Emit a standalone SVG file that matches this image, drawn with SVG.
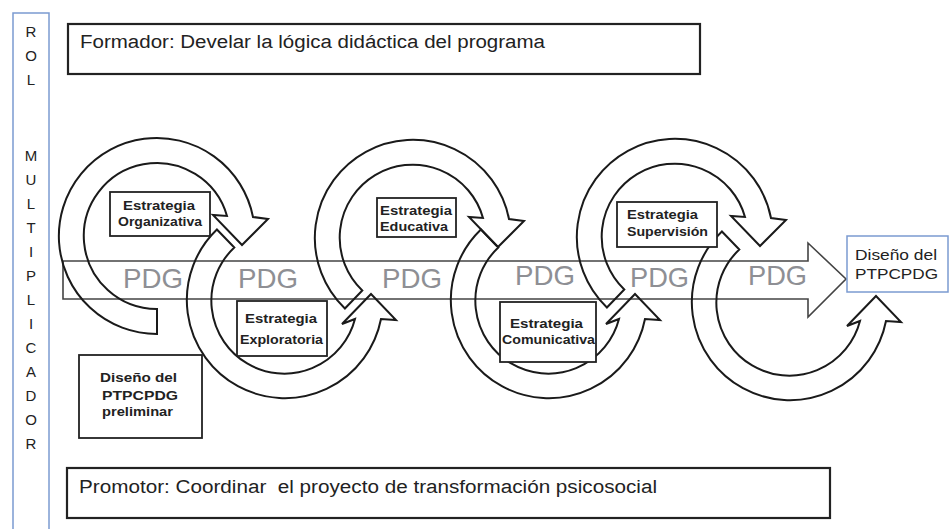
<svg xmlns="http://www.w3.org/2000/svg" width="950" height="529" viewBox="0 0 950 529">
<style>
text{font-family:"Liberation Sans",Arial,sans-serif}
.role{font-size:15px;fill:#222;text-anchor:middle}
.big{font-size:18px;fill:#222}
.sm{font-size:12px;font-weight:bold;fill:#222}
.md{font-size:14px;fill:#222}
.pm{font-size:12.5px;font-weight:bold;fill:#222}
.pdg{font-size:28px;fill:#8e8f94}
.box{fill:#fff;stroke:#222;stroke-width:1.8}
.wide{fill:#fff;stroke:#222;stroke-width:2.2}
.blue{fill:#fff;stroke:#7b9bd1;stroke-width:1.5}
.carrow{fill:none;stroke:#1a1a1a;stroke-width:2;stroke-linejoin:miter}
.main{fill:none;stroke:#444;stroke-width:1.6}
</style>
<rect width="950" height="529" fill="#fff"/>
<g id="rol">
<rect class="blue" x="13" y="13" width="36" height="540" fill="none"/>
<text class="role" x="31" y="37">R</text>
<text class="role" x="31" y="61">O</text>
<text class="role" x="31" y="85">L</text>
<text class="role" x="31" y="161">M</text>
<text class="role" x="31" y="185">U</text>
<text class="role" x="31" y="209">L</text>
<text class="role" x="31" y="233">T</text>
<text class="role" x="31" y="257">I</text>
<text class="role" x="31" y="281">P</text>
<text class="role" x="31" y="305">L</text>
<text class="role" x="31" y="329">I</text>
<text class="role" x="31" y="353">C</text>
<text class="role" x="31" y="377">A</text>
<text class="role" x="31" y="401">D</text>
<text class="role" x="31" y="425">O</text>
<text class="role" x="31" y="449">R</text>
</g>
<g id="formador">
<rect class="wide" x="68" y="24" width="632" height="50"/>
<text class="big" x="80" y="48" textLength="465" lengthAdjust="spacingAndGlyphs">Formador: Develar la lógica didáctica del programa</text>
</g>
<g id="promotor">
<rect class="wide" x="67" y="468" width="763" height="50"/>
<text class="big" x="79" y="493" textLength="578" lengthAdjust="spacingAndGlyphs" xml:space="preserve">Promotor: Coordinar  el proyecto de transformación psicosocial</text>
</g>
<g id="connectors">
<path class="main" d="M63,261 H808 V243 L846,279 L808,317 V299 H63 Z"/>
<path class="carrow" d="M157,334 A98,98 0 1 1 253,217 L268,219 L242,245 L213,215 L227,216 A73,73 0 1 0 157,309 Z"/>
<path class="carrow" d="M344.9,308.5 A98,98 0 1 1 509,219 L524,221 L498,247 L469,217 L483,218 A73,73 0 1 0 362.3,290.5 Z"/>
<path class="carrow" d="M606.9,307.5 A98,98 0 1 1 771,218 L786,220 L760,246 L731,216 L745,217 A73,73 0 1 0 624.3,289.5 Z"/>
<path class="carrow" d="M216.9,229.5 A98,98 0 1 0 381,319 L396,320 L371,294 L342,324 L355,319 A73,73 0 1 1 234.3,247.5 Z"/>
<path class="carrow" d="M480.9,229.5 A98,98 0 1 0 645,319 L660,320 L635,294 L606,324 L619,319 A73,73 0 1 1 498.3,247.5 Z"/>
<path class="carrow" d="M721.9,231.5 A98,98 0 1 0 886,321 L901,322 L876,296 L847,326 L860,321 A73,73 0 1 1 739.3,249.5 Z"/>
<g id="pdg-labels">
<text class="pdg" x="123" y="288" textLength="60" lengthAdjust="spacingAndGlyphs">PDG</text>
<text class="pdg" x="238" y="288" textLength="60" lengthAdjust="spacingAndGlyphs">PDG</text>
<text class="pdg" x="382" y="288" textLength="60" lengthAdjust="spacingAndGlyphs">PDG</text>
<text class="pdg" x="515" y="285" textLength="60" lengthAdjust="spacingAndGlyphs">PDG</text>
<text class="pdg" x="630" y="287" textLength="59" lengthAdjust="spacingAndGlyphs">PDG</text>
<text class="pdg" x="748" y="285" textLength="59" lengthAdjust="spacingAndGlyphs">PDG</text>
</g>
</g>
<g id="organizativa">
<rect class="box" x="110" y="192" width="100" height="44"/>
<text class="sm" x="123" y="210" textLength="72" lengthAdjust="spacingAndGlyphs">Estrategia</text>
<text class="sm" x="118" y="226" textLength="84" lengthAdjust="spacingAndGlyphs">Organizativa</text>
</g>
<g id="exploratoria">
<rect class="box" x="237" y="301" width="90" height="55"/>
<text class="sm" x="245" y="323" textLength="72" lengthAdjust="spacingAndGlyphs">Estrategia</text>
<text class="sm" x="240" y="344" textLength="83" lengthAdjust="spacingAndGlyphs">Exploratoria</text>
</g>
<g id="educativa">
<rect class="box" x="377" y="198" width="79" height="39"/>
<text class="sm" x="380" y="215" textLength="72" lengthAdjust="spacingAndGlyphs">Estrategia</text>
<text class="sm" x="380" y="231" textLength="68" lengthAdjust="spacingAndGlyphs">Educativa</text>
</g>
<g id="comunicativa">
<rect class="box" x="500" y="302" width="96" height="60"/>
<text class="sm" x="510" y="328" textLength="73" lengthAdjust="spacingAndGlyphs">Estrategia</text>
<text class="sm" x="502" y="344" textLength="93" lengthAdjust="spacingAndGlyphs">Comunicativa</text>
</g>
<g id="supervision">
<rect class="box" x="617" y="202" width="100" height="45"/>
<text class="sm" x="627" y="219" textLength="71" lengthAdjust="spacingAndGlyphs">Estrategia</text>
<text class="sm" x="627" y="236" textLength="81" lengthAdjust="spacingAndGlyphs">Supervisión</text>
</g>
<g id="preliminar">
<rect class="box" x="79" y="355" width="123" height="83"/>
<text class="pm" x="100" y="382" textLength="77" lengthAdjust="spacingAndGlyphs">Diseño del</text>
<text class="pm" x="102" y="400" textLength="76" lengthAdjust="spacingAndGlyphs">PTPCPDG</text>
<text class="pm" x="102" y="416" textLength="71" lengthAdjust="spacingAndGlyphs">preliminar</text>
</g>
<g id="diseno-final">
<rect class="blue" x="847" y="236" width="101" height="56"/>
<text class="md" x="855" y="260" textLength="82" lengthAdjust="spacingAndGlyphs">Diseño del</text>
<text class="md" x="855" y="279" textLength="83" lengthAdjust="spacingAndGlyphs">PTPCPDG</text>
</g>
</svg>
